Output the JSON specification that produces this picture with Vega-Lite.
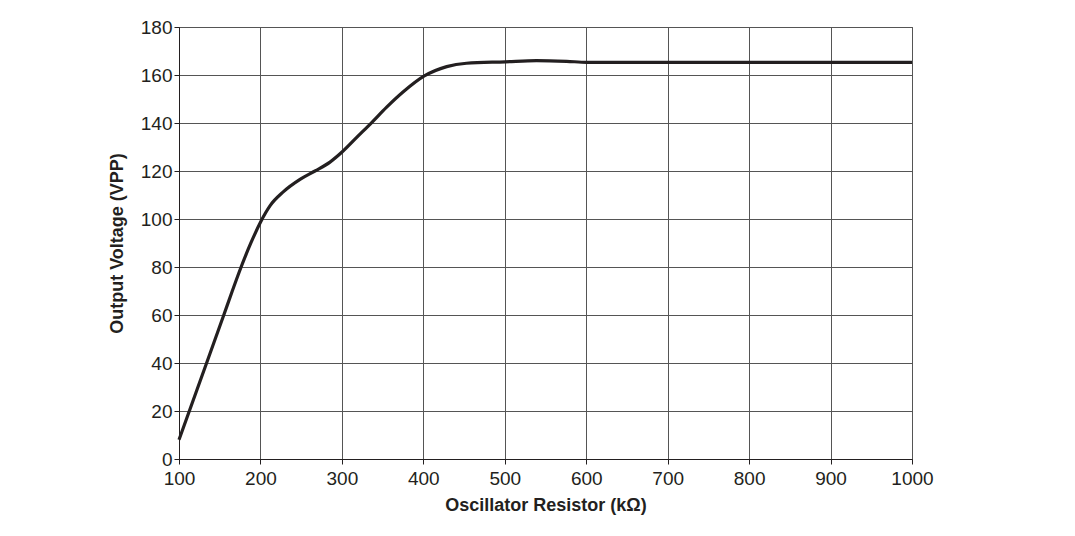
{
  "$schema": "https://vega.github.io/schema/vega-lite/v6.json",
  "width": 733,
  "height": 432,
  "autosize": {"type": "none"},
  "padding": {"left": 179, "top": 27, "right": 163, "bottom": 77},
  "background": "white",
  "config": {
    "font": "Liberation Sans",
    "view": {"stroke": "#555555", "strokeWidth": 1},
    "axis": {
      "labelFont": "Liberation Sans",
      "titleFont": "Liberation Sans",
      "labelFontSize": 19,
      "titleFontSize": 18,
      "titleFontWeight": "bold",
      "labelColor": "#231f20",
      "titleColor": "#231f20",
      "domainColor": "#231f20",
      "tickColor": "#231f20",
      "gridColor": "#555555",
      "gridOpacity": 1,
      "gridWidth": 1,
      "tickSize": 5,
      "labelFontWeight": "normal"
    }
  },
  "data": {
    "values": [
      {"r": 100, "v": 8},
      {"r": 112.7, "v": 20},
      {"r": 133.9, "v": 40},
      {"r": 155, "v": 60},
      {"r": 165, "v": 69.6},
      {"r": 175.7, "v": 79.5},
      {"r": 188, "v": 89.8},
      {"r": 200.5, "v": 99},
      {"r": 211.7, "v": 105.5},
      {"r": 228, "v": 111.3},
      {"r": 248.6, "v": 116.5},
      {"r": 267, "v": 120},
      {"r": 285.4, "v": 123.7},
      {"r": 300.5, "v": 128},
      {"r": 318.2, "v": 134},
      {"r": 336.6, "v": 140.2},
      {"r": 355, "v": 146.6},
      {"r": 375.4, "v": 153},
      {"r": 401.2, "v": 159.6},
      {"r": 428.7, "v": 163.5},
      {"r": 453, "v": 164.9},
      {"r": 500.7, "v": 165.5},
      {"r": 539, "v": 166},
      {"r": 576, "v": 165.7},
      {"r": 600.6, "v": 165.3},
      {"r": 700, "v": 165.3},
      {"r": 800, "v": 165.3},
      {"r": 900, "v": 165.3},
      {"r": 1000, "v": 165.3}
    ]
  },
  "mark": {"type": "line", "color": "#231f20", "strokeWidth": 3.2, "interpolate": "monotone", "strokeCap": "butt"},
  "encoding": {
    "x": {
      "field": "r",
      "type": "quantitative",
      "scale": {"domain": [100, 1000], "nice": false, "zero": false},
      "axis": {"values": [100, 200, 300, 400, 500, 600, 700, 800, 900, 1000], "format": "d", "title": "Oscillator Resistor (kΩ)", "labelPadding": 5, "titlePadding": 8, "labelFlush": false}
    },
    "y": {
      "field": "v",
      "type": "quantitative",
      "scale": {"domain": [0, 180], "nice": false},
      "axis": {"values": [0, 20, 40, 60, 80, 100, 120, 140, 160, 180], "format": "d", "title": "Output Voltage (VPP)", "labelPadding": 2, "titlePadding": 14}
    }
  }
}
